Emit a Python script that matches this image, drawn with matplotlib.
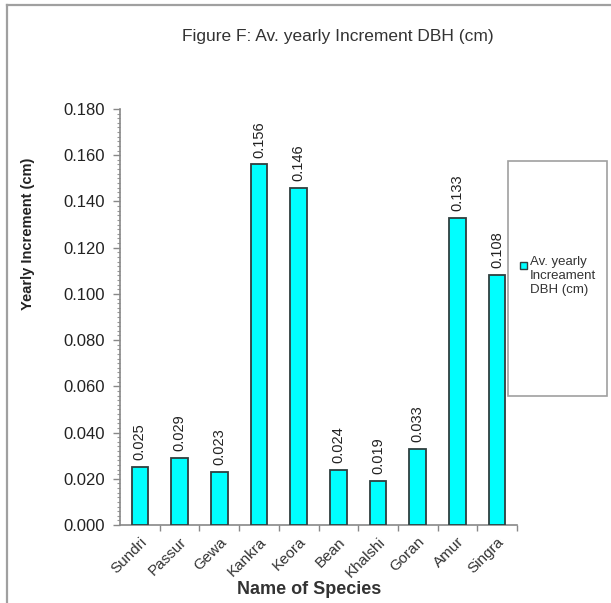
import matplotlib
matplotlib.use("Agg")
import matplotlib.pyplot as plt
from matplotlib.patches import Rectangle
from matplotlib.lines import Line2D
from matplotlib.ticker import MultipleLocator, FixedLocator, NullFormatter
import numpy as np

plt.rcParams['font.family'] = ['Liberation Sans', 'DejaVu Sans']

species = ["Sundri", "Passur", "Gewa", "Kankra", "Keora", "Bean", "Khalshi", "Goran", "Amur", "Singra"]
increment = [0.025, 0.029, 0.023, 0.156, 0.146, 0.024, 0.019, 0.033, 0.133, 0.108]
series_name = "Av. yearly\nIncreament\nDBH (cm)"
title = "Figure F: Av. yearly Increment DBH (cm)"

W, H = 611, 603
fig = plt.figure(figsize=(W / 100, H / 100), dpi=100)
fig.patch.set_facecolor("white")

# outer chart frame (top and left edges visible)
frame_col = "#a0a0a0"
fig.add_artist(Line2D([7 / W, 1.0], [1 - 5 / H, 1 - 5 / H], transform=fig.transFigure, color=frame_col, lw=1.6))
fig.add_artist(Line2D([7 / W, 7 / W], [0.0, 1 - 5 / H], transform=fig.transFigure, color=frame_col, lw=1.6))

ax = fig.add_axes([120 / W, 78 / H, 397 / W, 416 / H])
x = np.arange(len(species))
bars = ax.bar(x, increment, width=0.42, color="#00ffff", edgecolor="#2f3f3f", linewidth=1.3, zorder=3)

ax.set_xlim(-0.5, len(species) - 0.5)
ax.set_ylim(0, 0.18)

for s in ("top", "right"):
    ax.spines[s].set_visible(False)
for s in ("left", "bottom"):
    ax.spines[s].set_color("#888888")
    ax.spines[s].set_linewidth(1.2)

ax.yaxis.set_major_locator(MultipleLocator(0.02))
ax.yaxis.set_minor_locator(MultipleLocator(0.002))
ax.yaxis.set_major_formatter(plt.FuncFormatter(lambda v, p: f"{v:.3f}"))
ax.tick_params(axis="y", which="major", length=5, width=1, color="#888888", labelsize=12, labelcolor="#222222", pad=6)
ax.tick_params(axis="y", which="minor", length=2.5, width=0.8, color="#999999")

# x ticks at category boundaries, labels at centers
ax.xaxis.set_major_locator(FixedLocator(x + 0.5))
ax.xaxis.set_major_formatter(NullFormatter())
ax.set_xticks(x, minor=True)
ax.set_xticklabels(species, minor=True, rotation=45, ha="right", rotation_mode="anchor", fontsize=11, color="#333333")
ax.tick_params(axis="x", which="major", length=4, width=1, color="#888888")
ax.tick_params(axis="x", which="minor", length=0, pad=7)

for xi, v in zip(x, increment):
    ax.annotate(f"{v:.3f}", (xi, v), xytext=(0, 5), textcoords="offset points",
                rotation=90, ha="center", va="bottom", fontsize=10.5, color="#222222")

ax.set_ylabel("Yearly Increment (cm)", fontsize=10.5, fontweight="bold", color="#222222")
ax.yaxis.set_label_coords(-0.215, 0.70)
ax.set_xlabel("Name of Species", fontsize=13, fontweight="bold", color="#333333")
ax.xaxis.set_label_coords(0.476, -0.135)

fig.text(338 / W, 1 - 36 / H, title, ha="center", va="center", fontsize=12.5, color="#333333")

# legend box
fig.add_artist(Rectangle((508 / W, 1 - 396 / H), 99 / W, 235 / H, transform=fig.transFigure,
                         facecolor="white", edgecolor="#a0a0a0", lw=1.2))
fig.add_artist(Rectangle((520 / W, 1 - 269 / H), 7 / W, 7 / H, transform=fig.transFigure,
                         facecolor="#00ffff", edgecolor="#2f3f3f", lw=1.0))
fig.text(530 / W, 1 - 256 / H, series_name, ha="left", va="top", fontsize=9.5,
         color="#333333", linespacing=1.2)

fig.savefig("out.png", dpi=100, facecolor="white")
